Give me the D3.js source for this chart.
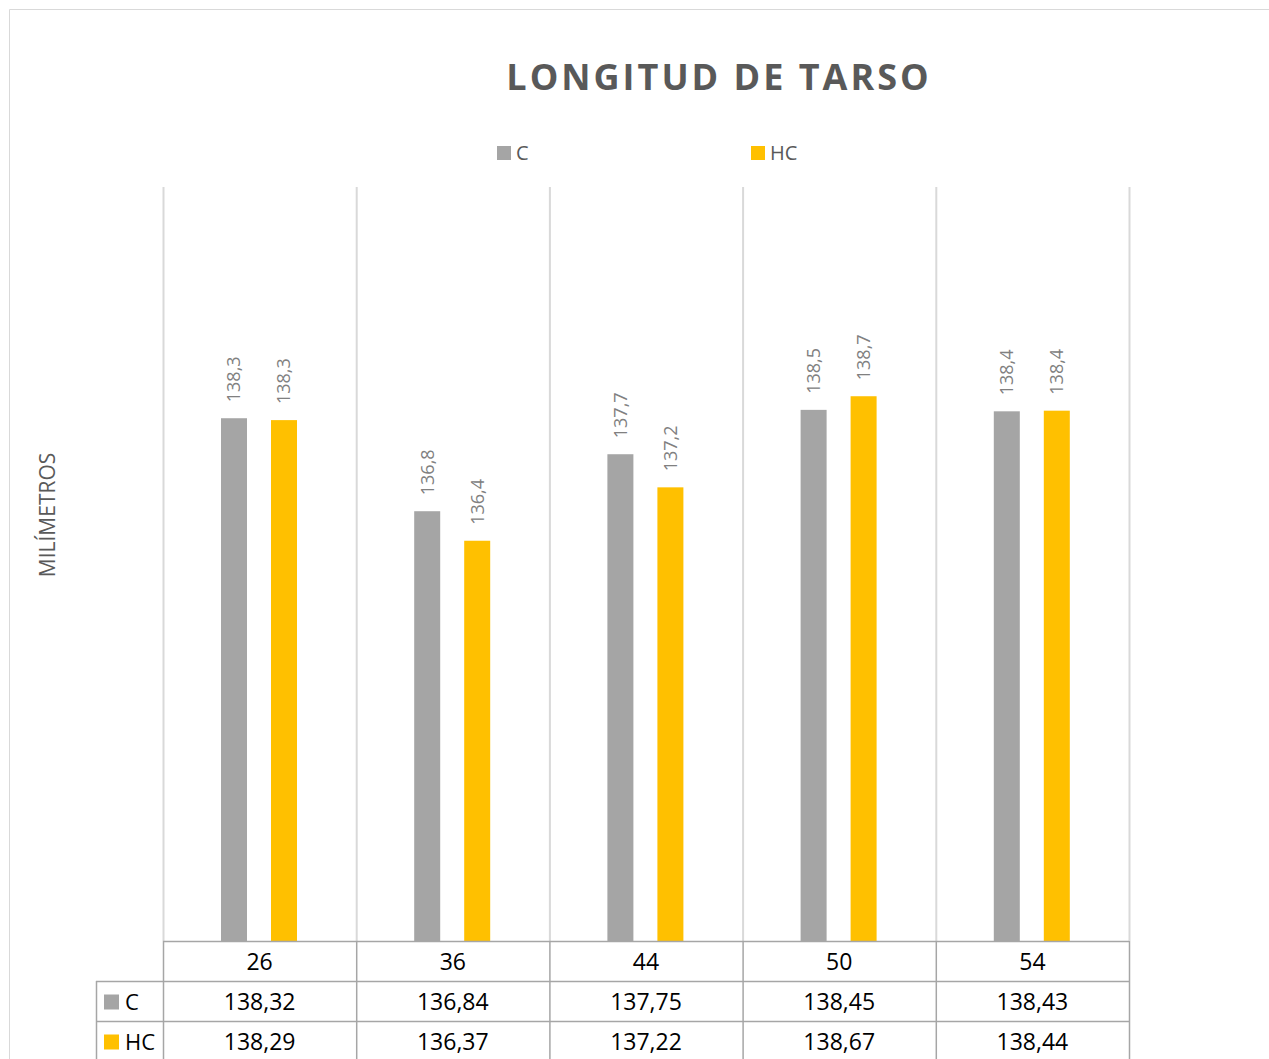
<!DOCTYPE html>
<html>
<head>
<meta charset="utf-8">
<script src="https://cdn.jsdelivr.net/npm/d3@7"></script>
<style>
  html, body { margin: 0; padding: 0; background: #fff; }
  svg { display: block; font-family: "Open Sans", "Liberation Sans", sans-serif; }
</style>
</head>
<body>
<svg id="chart" width="1269" height="1059"></svg>
<script>
// Data: tarsus length (mm) by age (days) for groups C and HC
const categories = ["26", "36", "44", "50", "54"];
const seriesNames = ["C", "HC"];
const valuesC  = [138.32, 136.84, 137.747, 138.453, 138.43];
const valuesHC = [138.29, 136.37, 137.22, 138.67, 138.44];
const seriesColors = ["#a5a5a5", "#ffc000"];
const yDomain = [130, 142];

const series = [valuesC, valuesHC];
const fmtTable = v => v.toFixed(2).replace(".", ",");
const fmtLabel = v => v.toFixed(1).replace(".", ",");

const svg = d3.select("#chart");

// chart border
svg.append("path")
  .attr("d", "M9.5,1059 V9.5 H1269")
  .attr("fill", "none").attr("stroke", "#d9d9d9").attr("stroke-width", 1);

const plot = { left: 163, right: 1129, top: 187, bottom: 941 };

const x = d3.scaleBand().domain(categories).range([plot.left, plot.right]);
const xs = d3.scaleBand().domain(seriesNames)
  .range([58, 134]).paddingInner(0.48).paddingOuter(0);
const y = d3.scaleLinear().domain(yDomain).range([plot.bottom, plot.top]);

// title
svg.append("text")
  .attr("x", 719).attr("y", 90)
  .attr("text-anchor", "middle")
  .attr("fill", "#595959")
  .attr("font-size", 36).attr("font-weight", "bold")
  .attr("letter-spacing", 3)
  .text("LONGITUD DE TARSO");

// legend
const legendX = [497, 751];
seriesNames.forEach((s, i) => {
  const g = svg.append("g").attr("transform", `translate(${legendX[i]},146)`);
  g.append("rect").attr("width", 14).attr("height", 14).attr("fill", seriesColors[i]);
  g.append("text").attr("x", 19).attr("y", 7).attr("dy", "0.35em")
    .attr("fill", "#595959").attr("font-size", 20).text(s);
});

// y axis title
svg.append("text")
  .attr("transform", "translate(48,515) rotate(-90)")
  .attr("text-anchor", "middle").attr("dy", "0.35em")
  .attr("fill", "#595959").attr("font-size", 21)
  .text("MILÍMETROS");

// vertical category gridlines
const gridX = categories.map(c => x(c)).concat([plot.right]);
svg.append("g").selectAll("line").data(gridX).join("line")
  .attr("x1", d => d + 0.5).attr("x2", d => d + 0.5)
  .attr("y1", plot.top).attr("y2", plot.bottom)
  .attr("stroke", "#d9d9d9").attr("stroke-width", 2);

// bars
const barData = [];
categories.forEach((c, ci) => {
  seriesNames.forEach((s, si) => {
    barData.push({ c, s, si, v: series[si][ci] });
  });
});

svg.append("g").selectAll("rect").data(barData).join("rect")
  .attr("x", d => x(d.c) + xs(d.s))
  .attr("width", xs.bandwidth())
  .attr("y", d => y(d.v))
  .attr("height", d => y(yDomain[0]) - y(d.v))
  .attr("fill", d => seriesColors[d.si]);

// rotated value labels
svg.append("g").selectAll("text").data(barData).join("text")
  .attr("transform", d => `translate(${x(d.c) + xs(d.s) + xs.bandwidth() / 2},${y(d.v) - 16}) rotate(-90)`)
  .attr("dy", "0.35em")
  .attr("fill", "#808080").attr("font-size", 18)
  .text(d => fmtLabel(d.v));

// data table
const rowH = 40;
const tableTop = plot.bottom;
const tableLeft = 96;
const tg = svg.append("g");
const lineColor = "#a6a6a6";

// horizontal lines
tg.append("line").attr("x1", plot.left).attr("x2", plot.right)
  .attr("y1", tableTop + 0.5).attr("y2", tableTop + 0.5)
  .attr("stroke", lineColor).attr("stroke-width", 1.5);
[1, 2, 3].forEach(r => {
  tg.append("line").attr("x1", tableLeft).attr("x2", plot.right)
    .attr("y1", tableTop + r * rowH + 0.5).attr("y2", tableTop + r * rowH + 0.5)
    .attr("stroke", lineColor).attr("stroke-width", 1.5);
});
// vertical lines
gridX.forEach(gx => {
  tg.append("line").attr("x1", gx + 0.5).attr("x2", gx + 0.5)
    .attr("y1", tableTop).attr("y2", 1059)
    .attr("stroke", lineColor).attr("stroke-width", 1.5);
});
tg.append("line").attr("x1", tableLeft + 0.5).attr("x2", tableLeft + 0.5)
  .attr("y1", tableTop + rowH).attr("y2", 1059)
  .attr("stroke", lineColor).attr("stroke-width", 1.5);

// header row
tg.selectAll("text.hdr").data(categories).join("text")
  .attr("class", "hdr")
  .attr("x", d => x(d) + x.bandwidth() / 2)
  .attr("y", tableTop + rowH / 2 + 1).attr("dy", "0.35em")
  .attr("text-anchor", "middle").attr("font-size", 23).attr("fill", "#000")
  .text(d => d);

// series rows
series.forEach((vals, si) => {
  const rowY = tableTop + (si + 1) * rowH + rowH / 2 + 1;
  tg.append("rect").attr("x", 104).attr("y", rowY - 7.5).attr("width", 15).attr("height", 15)
    .attr("fill", seriesColors[si]);
  tg.append("text").attr("x", 125).attr("y", rowY).attr("dy", "0.35em")
    .attr("font-size", 22).attr("fill", "#000").text(seriesNames[si]);
  tg.selectAll(null).data(vals).join("text")
    .attr("x", (d, i) => x(categories[i]) + x.bandwidth() / 2)
    .attr("y", rowY).attr("dy", "0.35em")
    .attr("text-anchor", "middle").attr("font-size", 23).attr("fill", "#000")
    .text(d => fmtTable(d));
});
</script>
</body>
</html>
